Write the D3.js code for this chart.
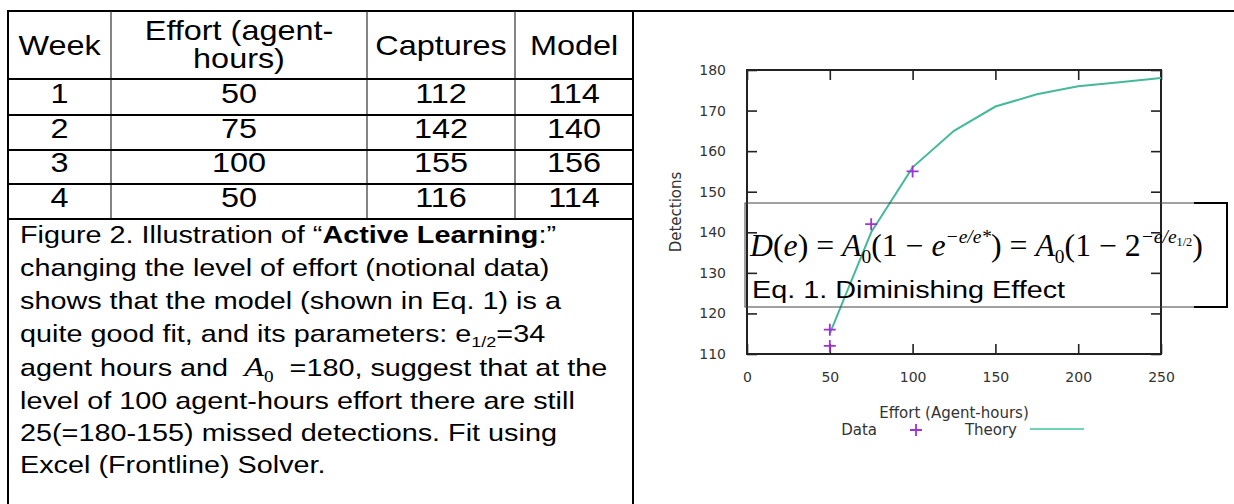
<!DOCTYPE html>
<html>
<head>
<meta charset="utf-8">
<script src="https://cdn.jsdelivr.net/npm/d3@7"></script>
<style>
  html, body { margin: 0; padding: 0; background: #fff; }
  svg { display: block; }
  .cell { font-family: "Liberation Sans", Arial, sans-serif; font-size: 27px; fill: #000; }
  .cap { font-family: "Liberation Sans", Arial, sans-serif; font-size: 24px; fill: #000; }
  .eq { font-family: "Liberation Serif", "Times New Roman", serif; font-size: 31px; fill: #000; }
  .tick text { font-family: "DejaVu Sans", Verdana, sans-serif; font-size: 14px; fill: #333; }
  .lbl { font-family: "DejaVu Sans", Verdana, sans-serif; font-size: 15px; fill: #333; }
</style>
</head>
<body>
<div id="chart"></div>
<script>
// table data (notional)
const weeks = [1, 2, 3, 4];
const effort = [50, 75, 100, 50];
const captures = [112, 142, 155, 116];
const model = [114, 140, 156, 114];
const headers = ["Week", ["Effort (agent-", "hours)"], "Captures", "Model"];

// plotted curve
const theoryEffort = [50, 75, 100, 125, 150, 175, 200, 225, 250];
const theoryDetections = [115, 140, 156, 165, 171, 174, 176, 177, 178];

const xTicks = [0, 50, 100, 150, 200, 250];
const yTicks = [110, 120, 130, 140, 150, 160, 170, 180];

const W = 1234, H = 504;
const SX = 1.2; // the source picture is stretched sideways

const svg = d3.select("#chart").append("svg")
  .attr("width", W)
  .attr("height", H);

// --- table grid ---
const colX = [8, 111, 367, 515, 633];
const rowY = [11, 79, 115, 150, 184, 219];

svg.append("line").attr("x1", 7).attr("x2", W).attr("y1", 11).attr("y2", 11)
  .attr("stroke", "#000").attr("stroke-width", 2);
[colX[0], colX[4]].forEach(x => {
  svg.append("line").attr("x1", x).attr("x2", x).attr("y1", 11).attr("y2", H)
    .attr("stroke", "#000").attr("stroke-width", 2);
});
colX.slice(1, 4).forEach(x => {
  svg.append("line").attr("x1", x).attr("x2", x).attr("y1", rowY[0]).attr("y2", rowY[5])
    .attr("stroke", "#333").attr("stroke-width", 1.2);
});
rowY.slice(1).forEach(y => {
  svg.append("line").attr("x1", colX[0]).attr("x2", colX[4]).attr("y1", y).attr("y2", y)
    .attr("stroke", "#000").attr("stroke-width", 2);
});

function stretchedText(g, x, y, cls, anchor, sx) {
  return g.append("text")
    .attr("class", cls)
    .attr("text-anchor", anchor || "start")
    .attr("transform", `translate(${x},${y}) scale(${sx || SX},1)`);
}

const colMid = d3.range(4).map(i => (colX[i] + colX[i + 1]) / 2);

headers.forEach((h, i) => {
  if (Array.isArray(h)) {
    stretchedText(svg, colMid[i], 40, "cell", "middle").text(h[0]);
    stretchedText(svg, colMid[i], 68, "cell", "middle").text(h[1]);
  } else {
    stretchedText(svg, colMid[i], 55, "cell", "middle").text(h);
  }
});

const rows = weeks.map((w, i) => [w, effort[i], captures[i], model[i]]);
rows.forEach((r, j) => {
  const base = rowY[j + 2] - 12;
  r.forEach((v, i) => {
    stretchedText(svg, colMid[i], base, "cell", "middle").text(v);
  });
});

// --- caption ---
const capX = 20;
const capBase = [243, 276, 309, 342, 376, 409, 441, 473];

let t = stretchedText(svg, capX, capBase[0], "cap");
t.append("tspan").text("Figure 2. Illustration of \u201c");
t.append("tspan").attr("font-weight", "bold").text("Active Learning");
t.append("tspan").text(":\u201d");

stretchedText(svg, capX, capBase[1], "cap").text("changing the level of effort (notional data)");
stretchedText(svg, capX, capBase[2], "cap").text("shows that the model (shown in Eq. 1) is a");

t = stretchedText(svg, capX, capBase[3], "cap");
t.append("tspan").text("quite good fit, and its parameters: e");
t.append("tspan").attr("font-size", 15).attr("dy", 5).text("1/2");
t.append("tspan").attr("dy", -5).text("=34");

t = stretchedText(svg, capX, capBase[4], "cap");
t.append("tspan").text("agent hours and ");
t.append("tspan").attr("font-family", "Liberation Serif, serif").attr("font-style", "italic").attr("font-size", 27).text("\u00a0A");
t.append("tspan").attr("font-family", "Liberation Serif, serif").attr("font-size", 16).attr("dy", 6).text("0");
t.append("tspan").attr("dy", -6).text("\u00a0 =180, suggest that at the");

stretchedText(svg, capX, capBase[5], "cap").text("level of 100 agent-hours effort there are still");
stretchedText(svg, capX, capBase[6], "cap").text("25(=180-155) missed detections.  Fit using");
stretchedText(svg, capX, capBase[7], "cap").text("Excel (Frontline) Solver.");

// --- chart ---
const x = d3.scaleLinear().domain([0, 250]).range([747, 1161]);
const y = d3.scaleLinear().domain([110, 180]).range([354, 70]);

svg.append("g")
  .attr("transform", `translate(0,${y(110)})`)
  .call(d3.axisBottom(x).tickValues(xTicks).tickSize(-10).tickSizeOuter(0).tickPadding(18))
  .call(g => g.select(".domain").remove());
svg.append("g")
  .attr("transform", `translate(0,${y(180)})`)
  .call(d3.axisTop(x).tickValues(xTicks).tickSize(-10).tickSizeOuter(0).tickFormat(""))
  .call(g => g.select(".domain").remove());
svg.append("g")
  .attr("transform", `translate(${x(0)},0)`)
  .call(d3.axisLeft(y).tickValues(yTicks).tickSize(-10).tickSizeOuter(0).tickPadding(21))
  .call(g => g.select(".domain").remove());
svg.append("g")
  .attr("transform", `translate(${x(250)},0)`)
  .call(d3.axisRight(y).tickValues(yTicks).tickSize(-10).tickSizeOuter(0).tickFormat(""))
  .call(g => g.select(".domain").remove());

svg.selectAll(".tick line").attr("stroke", "#222").attr("stroke-width", 1.6);

svg.append("rect")
  .attr("x", x(0)).attr("y", y(180))
  .attr("width", x(250) - x(0)).attr("height", y(110) - y(180))
  .attr("fill", "none").attr("stroke", "#222").attr("stroke-width", 2);

svg.append("text").attr("class", "lbl")
  .attr("text-anchor", "middle")
  .attr("transform", `translate(681,${(y(110) + y(180)) / 2}) rotate(-90)`)
  .text("Detections");

svg.append("text").attr("class", "lbl")
  .attr("text-anchor", "middle")
  .attr("x", (x(0) + x(250)) / 2).attr("y", 418)
  .text("Effort (Agent-hours)");

const lineColor = "#45b99a";
const markColor = "#a030d8";

svg.append("path")
  .datum(theoryEffort.map((e, i) => [e, theoryDetections[i]]))
  .attr("fill", "none")
  .attr("stroke", lineColor)
  .attr("stroke-width", 2)
  .attr("d", d3.line().x(d => x(d[0])).y(d => y(d[1])));

const plus = (g, cx, cy, r) => g.append("path")
  .attr("d", `M${cx - r},${cy}H${cx + r}M${cx},${cy - r}V${cy + r}`)
  .attr("stroke", markColor).attr("stroke-width", 1.8).attr("fill", "none");

effort.forEach((e, i) => plus(svg, x(e), y(captures[i]), 6));

// legend
svg.append("text").attr("class", "lbl").attr("text-anchor", "end")
  .attr("x", 877).attr("y", 435).text("Data");
plus(svg, 916, 430, 6);
svg.append("text").attr("class", "lbl").attr("text-anchor", "end")
  .attr("x", 1017).attr("y", 435).text("Theory");
svg.append("line").attr("x1", 1030).attr("x2", 1084).attr("y1", 429).attr("y2", 429)
  .attr("stroke", "#6fd3b6").attr("stroke-width", 2);

// --- equation box ---
svg.append("rect")
  .attr("x", 745).attr("y", 203).attr("width", 482).attr("height", 104)
  .attr("fill", "none").attr("stroke", "#444").attr("stroke-width", 1);
svg.append("path")
  .attr("d", "M1194,203H1227V307H1194")
  .attr("fill", "none").attr("stroke", "#000").attr("stroke-width", 2);

const eq = stretchedText(svg, 750, 256, "eq", "start", 1.025);
const it = s => eq.append("tspan").attr("font-style", "italic").text(s);
const rm = s => eq.append("tspan").text(s);
it("D"); rm("("); it("e"); rm(") = "); it("A");
eq.append("tspan").attr("font-size", 19).attr("dy", 7).text("0");
eq.append("tspan").attr("dy", -7).text("(1 \u2212 ");
it("e");
eq.append("tspan").attr("font-size", 19).attr("font-style", "italic").attr("dy", -13).text("\u2212e/e*");
eq.append("tspan").attr("dy", 13).text(") = ");
it("A");
eq.append("tspan").attr("font-size", 19).attr("dy", 7).text("0");
eq.append("tspan").attr("dy", -7).text("(1 \u2212 2");
eq.append("tspan").attr("font-size", 19).attr("font-style", "italic").attr("dy", -13).text("\u2212e/e");
eq.append("tspan").attr("font-size", 12).attr("dy", 3).text("1/2");
eq.append("tspan").attr("dy", 10).text(")");

stretchedText(svg, 752, 298, "cap").attr("font-size", 25).text("Eq. 1. Diminishing Effect");
</script>
</body>
</html>
